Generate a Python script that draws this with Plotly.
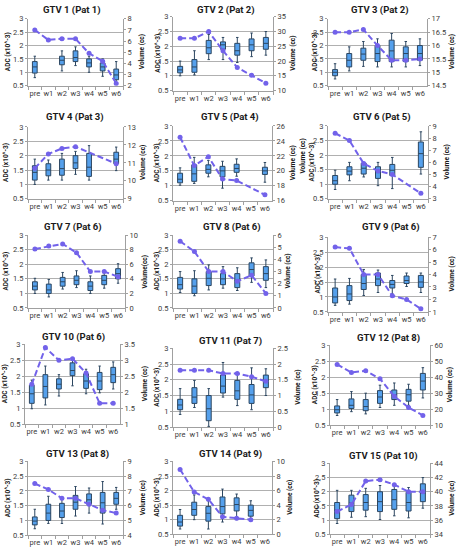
import plotly.graph_objects as go

CATS = ["pre", "w1", "w2", "w3", "w4", "w5", "w6"]
TITLES = ["GTV 1 (Pat 1)", "GTV 2 (Pat 2)", "GTV 3 (Pat 2)",
          "GTV 4 (Pat 3)", "GTV 5 (Pat 4)", "GTV 6 (Pat 5)",
          "GTV 7 (Pat 6)", "GTV 8 (Pat 6)", "GTV 9 (Pat 6)",
          "GTV 10 (Pat 6)", "GTV 11 (Pat 7)", "GTV 12 (Pat 8)",
          "GTV 13 (Pat 8)", "GTV 14 (Pat 9)", "GTV 15 (Pat 10)"]
N = None
ADC_LOW = [
    [0.80, N, 1.05, 1.25, 1.00, 0.85, 0.60],
    [1.00, 1.03, 1.55, 1.55, 1.45, 1.65, 1.70],
    [0.75, 1.05, 1.22, 1.20, 1.20, 1.20, 1.25],
    [1.00, 1.15, 1.15, 1.35, 1.15, N, 1.48],
    [1.02, 1.08, 1.30, 0.92, 1.32, N, 1.12],
    [0.82, 1.12, 1.25, 0.95, 0.85, N, 1.35],
    [1.00, 0.88, 1.15, 1.20, 1.00, 1.18, 1.35],
    [1.03, 0.92, 1.12, 1.18, 1.10, 1.38, 1.20],
    [0.72, 0.76, 1.05, 1.15, 1.10, 1.35, 1.15],
    [0.98, 1.10, 1.38, 1.70, 1.45, 1.48, 1.60],
    [0.90, 1.12, 0.52, 1.45, 1.18, 1.05, 1.50],
    [0.80, 0.92, 0.85, 1.05, 1.12, 1.12, 1.35],
    [0.72, 0.90, 0.90, 1.15, 1.25, 0.88, 1.38],
    [0.68, 1.00, 0.68, 0.92, 1.00, 0.98, N],
    [0.88, 1.10, 1.12, 1.02, 1.15, 1.08, 1.42],
]
ADC_Q1 = [
    [0.97, N, 1.28, 1.40, 1.20, 1.05, 0.72],
    [1.10, 1.12, 1.75, 1.90, 1.70, 1.85, 1.90],
    [0.87, 1.20, 1.45, 1.40, 1.40, 1.40, 1.45],
    [1.15, 1.30, 1.32, 1.55, 1.28, N, 1.72],
    [1.10, 1.15, 1.42, 1.30, 1.45, N, 1.38],
    [1.00, 1.32, 1.35, 1.20, 1.30, N, 1.58],
    [1.12, 1.00, 1.25, 1.30, 1.10, 1.30, 1.50],
    [1.15, 1.00, 1.27, 1.30, 1.20, 1.60, 1.45],
    [0.80, 0.88, 1.25, 1.38, 1.30, 1.45, 1.32],
    [1.15, 1.32, 1.60, 2.02, 1.62, 1.58, 1.80],
    [1.05, 1.25, 0.70, 1.58, 1.38, 1.25, 1.75],
    [0.88, 1.02, 0.95, 1.18, 1.30, 1.25, 1.60],
    [0.85, 1.00, 1.10, 1.38, 1.55, 1.25, 1.55],
    [0.78, 1.15, 0.95, 1.20, 1.30, 1.12, N],
    [1.05, 1.30, 1.35, 1.30, 1.38, 1.32, 1.65],
]
ADC_MED = [
    [1.20, N, 1.45, 1.55, 1.35, 1.20, 0.90],
    [1.20, 1.30, 1.95, 2.05, 1.85, 2.05, 2.10],
    [1.00, 1.45, 1.68, 1.70, 1.80, 1.70, 1.70],
    [1.42, 1.50, 1.55, 1.75, 1.60, N, 1.88],
    [1.22, 1.40, 1.55, 1.50, 1.58, N, 1.50],
    [1.12, 1.45, 1.55, 1.40, 1.48, N, 2.05],
    [1.25, 1.12, 1.40, 1.45, 1.25, 1.45, 1.68],
    [1.30, 1.25, 1.52, 1.50, 1.45, 1.82, 1.68],
    [1.00, 1.10, 1.45, 1.60, 1.42, 1.55, 1.50],
    [1.45, 1.68, 1.75, 2.18, 1.85, 1.85, 2.05],
    [1.20, 1.45, 1.08, 1.80, 1.65, 1.52, 1.98],
    [0.98, 1.12, 1.08, 1.38, 1.45, 1.45, 1.88],
    [0.98, 1.25, 1.32, 1.62, 1.70, 1.60, 1.75],
    [0.92, 1.35, 1.22, 1.45, 1.52, 1.32, N],
    [1.35, 1.60, 1.62, 1.65, 1.72, 1.62, 1.95],
]
ADC_Q3 = [
    [1.40, N, 1.60, 1.80, 1.50, 1.35, 1.12],
    [1.32, 1.55, 2.20, 2.15, 2.10, 2.25, 2.30],
    [1.10, 1.70, 1.90, 2.00, 2.20, 1.95, 2.00],
    [1.65, 1.72, 1.88, 2.00, 2.08, N, 2.12],
    [1.42, 1.70, 1.70, 1.65, 1.72, N, 1.62],
    [1.30, 1.60, 1.72, 1.60, 1.68, N, 2.45],
    [1.40, 1.32, 1.55, 1.60, 1.40, 1.62, 1.85],
    [1.55, 1.50, 1.75, 1.68, 1.68, 2.05, 1.92],
    [1.30, 1.38, 1.75, 1.80, 1.55, 1.70, 1.72],
    [1.72, 2.05, 1.92, 2.42, 2.08, 2.12, 2.28],
    [1.38, 1.75, 1.50, 2.15, 1.98, 1.85, 2.15],
    [1.10, 1.32, 1.30, 1.58, 1.60, 1.62, 2.12],
    [1.12, 1.55, 1.58, 1.85, 1.90, 1.95, 1.95],
    [1.15, 1.60, 1.45, 1.78, 1.75, 1.50, N],
    [1.62, 1.88, 1.90, 2.00, 2.08, 1.98, 2.28],
]
ADC_HIGH = [
    [1.60, N, 1.80, 1.95, 1.60, 1.50, 1.40],
    [1.50, 1.85, 2.40, 2.30, 2.30, 2.45, 2.50],
    [1.32, 1.95, 2.15, 2.25, 2.45, 2.15, 2.25],
    [1.88, 1.85, 2.08, 2.15, 2.35, N, 2.30],
    [1.60, 1.95, 1.85, 1.82, 1.90, N, 1.78],
    [1.48, 1.75, 1.75, 1.75, 1.92, N, 2.80],
    [1.52, 1.48, 1.72, 1.78, 1.60, 1.78, 2.02],
    [1.75, 1.78, 1.98, 1.92, 1.88, 2.22, 2.15],
    [1.60, 1.62, 1.92, 1.90, 1.72, 1.80, 1.80],
    [1.88, 2.32, 2.05, 2.52, 2.22, 2.32, 2.45],
    [1.72, 1.98, 1.72, 2.55, 2.20, 2.38, 2.35],
    [1.30, 1.55, 1.50, 1.75, 1.82, 1.78, 2.30],
    [1.38, 1.82, 1.75, 2.15, 2.10, 2.32, 2.12],
    [1.35, 1.85, 1.65, 2.05, 1.88, 1.65, N],
    [2.05, 2.05, 2.12, 2.22, 2.20, 2.15, 2.50],
]
VOLUME = [
    [7.0, 6.1, 6.2, 6.2, 4.9, 4.2, 2.2],
    [27.7, 27.7, 30.0, 23.5, 17.8, 15.2, 12.5],
    [16.5, 16.5, 16.6, 16.0, 15.45, 15.45, 15.5],
    [10.7, 11.5, 11.8, 11.9, N, N, 10.95],
    [24.5, 20.7, 21.9, 18.9, 18.7, N, 16.8],
    [8.4, 7.8, 5.9, 5.3, 5.0, N, 3.45],
    [8.1, 8.5, 8.8, 7.6, 5.0, 5.0, 4.3],
    [5.5, 4.65, 3.0, 3.0, 2.2, 2.7, 1.2],
    [6.2, 6.1, 4.0, 4.0, 2.3, 2.0, 1.25],
    [2.25, 3.4, 3.0, 3.05, 2.6, 1.65, 1.65],
    [1.8, 1.8, 1.8, 1.7, 1.7, 1.6, 1.45],
    [48, 43, 44, 39, 28, 21, 16],
    [7.5, 7.1, 6.5, 6.5, 6.1, 5.7, 5.5],
    [8.9, 5.8, 4.8, 2.4, 2.2, 2.0, N],
    [37.2, 38.2, 41.5, 41.7, 41.0, 40.0, 40.0],
]
VOL_AXIS = [(2, 8, 1), (10, 35, 5), (14.5, 17, 0.5), (9, 13, 1), (16, 26, 2),
            (3, 9, 1), (0, 10, 2), (0, 6, 1), (1, 7, 1), (1, 3.5, 0.5),
            (0, 2.5, 0.5), (10, 60, 10), (4, 9, 1), (0, 10, 2), (34, 44, 2)]
VOL_TITLES = ["Volume (cc)"] * 6 + ["Volume(cc)"] + ["Volume (cc)"] * 8
ADC_TITLE = "ADC (x10^-3)"

# layout geometry in pixels: plot-area left, right, top, bottom
W, H = 456, 554
BOXES = [(28, 123, 15, 83), (173, 273, 13, 88), (328, 427, 15, 83),
         (28, 123, 125, 198), (173, 272, 124, 200), (328, 428, 124, 198),
         (28, 125, 235, 309), (173, 273, 235, 309), (328, 428, 237, 313),
         (25, 120, 346, 427), (173, 273, 350, 430), (330, 430, 347, 428),
         (28, 123, 465, 540), (173, 272, 465, 539), (330, 430, 467, 539)]
TITLE_POS = [(72, 6), (226, 6), (380, 6), (75, 115), (230, 115), (382, 115),
             (73, 227), (232, 227), (391, 227), (73, 339), (230, 343), (388, 340),
             (77, 457), (231, 457), (383, 459)]
LEFT_T_X = [8, 158, 315, 6, 157, 312, 6, 157, 318, 5, 157, 315, 8, 157, 317]
RIGHT_T_X = [142, 293, 452, 143, 293, 447, 145, 288, 452, 145, 298, 450, 143, 290, 452]

BOX_FILL = "#55a0ec"
BOX_LINE = "#2c4660"
LINE_COL = "#7262ea"
GRID = "#b0b0b0"
AXIS = "#a0a0a0"
FONT = "Roboto, Liberation Sans, sans-serif"
TXT = "#3a3a3a"

fig = go.Figure()
layout = dict(width=W, height=H, margin=dict(l=0, r=0, t=0, b=0),
              paper_bgcolor="white", plot_bgcolor="white", showlegend=False,
              boxgap=0.5, font=dict(family=FONT, size=7.5, color=TXT))
annotations = []

def nm(prefix, i):
    return prefix if i == 1 else f"{prefix}{i}"

def ann(text, x, y, size, angle=0):
    return dict(text=text, x=x / W, y=1 - y / H, xref="paper", yref="paper",
                xanchor="center", yanchor="middle", showarrow=False, textangle=angle,
                font=dict(size=size, color="#1a1a1a", family=FONT))

for k in range(15):
    xi, yl, yr = k + 1, 2 * k + 1, 2 * k + 2
    xa, ya, yb = nm("x", xi), nm("y", yl), nm("y", yr)
    l, r, t, b = BOXES[k]
    xs, q1, med, q3, lo, hi = [], [], [], [], [], []
    for j, c in enumerate(CATS):
        if ADC_MED[k][j] is None:
            continue
        xs.append(c); q1.append(ADC_Q1[k][j]); med.append(ADC_MED[k][j])
        q3.append(ADC_Q3[k][j]); lo.append(ADC_LOW[k][j]); hi.append(ADC_HIGH[k][j])
    fig.add_trace(go.Box(x=xs, q1=q1, median=med, q3=q3, lowerfence=lo, upperfence=hi,
                         boxpoints=False, fillcolor=BOX_FILL,
                         line=dict(color=BOX_LINE, width=1), whiskerwidth=0.5,
                         xaxis=xa, yaxis=ya, hoverinfo="skip"))
    fig.add_trace(go.Scatter(x=CATS, y=VOLUME[k], mode="lines+markers", connectgaps=True,
                             line=dict(color=LINE_COL, width=2, dash="6px,3px"),
                             marker=dict(color=LINE_COL, size=5),
                             xaxis=xa, yaxis=yb, hoverinfo="skip"))
    layout[nm("xaxis", xi)] = dict(domain=[l / W, r / W], anchor=ya, type="category",
                                  categoryorder="array", categoryarray=CATS,
                                  range=[-0.5, 6.5], showline=True, linecolor=AXIS,
                                  ticks="outside", tickson="boundaries", ticklen=3,
                                  tickangle=0,
                                  tickcolor=AXIS, tickfont=dict(size=7.5, color=TXT),
                                  showgrid=False, zeroline=False, fixedrange=True)
    layout[nm("yaxis", yl)] = dict(domain=[1 - b / H, 1 - t / H], anchor=xa,
                                  range=[0.5, 3], dtick=0.5, tick0=0.5,
                                  showline=True, linecolor=AXIS, ticks="outside",
                                  ticklen=2, tickcolor=AXIS,
                                  showgrid=True, gridcolor=GRID, gridwidth=1.2,
                                  zeroline=False, tickfont=dict(size=7.5, color=TXT))
    vmin, vmax, vstep = VOL_AXIS[k]
    layout[nm("yaxis", yr)] = dict(domain=[1 - b / H, 1 - t / H], anchor=xa,
                                  overlaying=ya, side="right",
                                  range=[vmin, vmax], dtick=vstep, tick0=vmin,
                                  showline=True, linecolor=AXIS, ticks="outside",
                                  ticklen=2, tickcolor=AXIS, showgrid=False,
                                  zeroline=False, tickfont=dict(size=7.5, color=TXT))
    tx, ty = TITLE_POS[k]
    annotations.append(ann(f"<b>{TITLES[k]}</b>", tx, ty, 9.5))
    cy = (t + b) / 2
    annotations.append(ann(f"<b>{ADC_TITLE}</b>", LEFT_T_X[k], cy, 6.5, -90))
    annotations.append(ann(f"<b>{VOL_TITLES[k]}</b>", RIGHT_T_X[k], cy, 6.5, -90))
    if k == 5:
        annotations.append(ann("<b>Volume (cc)</b>", 303, cy - 6, 6.5, -90))

layout["annotations"] = annotations
fig.update_layout(**layout)
fig.write_html("out.html", config={"displayModeBar": False},
               post_script="document.body.style.margin='0px';document.body.style.overflow='hidden';")
